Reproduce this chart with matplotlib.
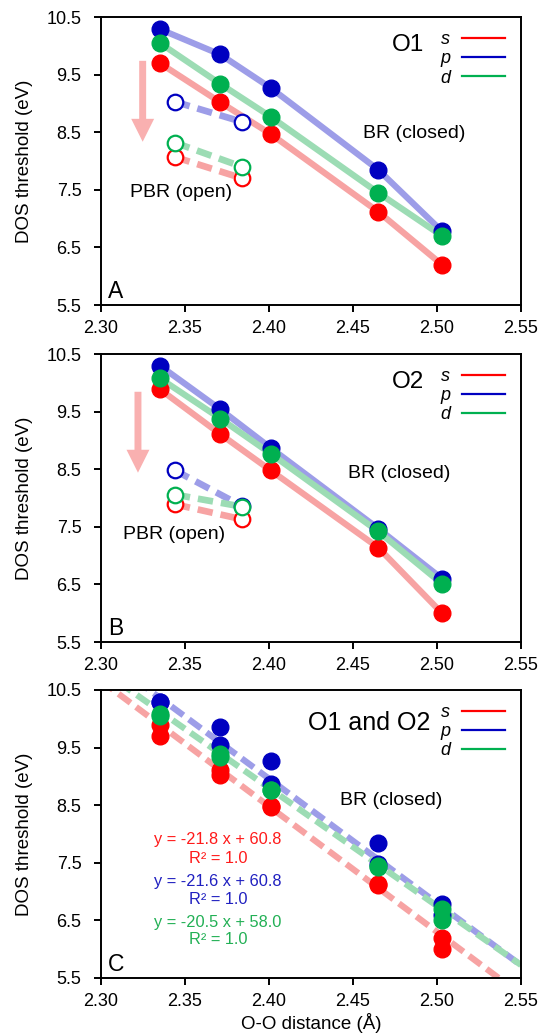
import matplotlib
matplotlib.use("Agg")
import matplotlib.pyplot as plt
import numpy as np
from matplotlib.lines import Line2D

plt.rcParams['font.family'] = ['Liberation Sans', 'DejaVu Sans']

# O-O distances (Å)
x_closed = [2.335, 2.371, 2.401, 2.465, 2.503]
x_open = [2.344, 2.384]

# O1 DOS thresholds (eV)
o1_s = [9.70, 9.02, 8.47, 7.12, 6.20]
o1_p = [10.29, 9.85, 9.27, 7.85, 6.78]
o1_d = [10.05, 9.34, 8.77, 7.45, 6.70]
o1_open_s = [8.07, 7.70]
o1_open_p = [9.03, 8.68]
o1_open_d = [8.32, 7.90]

# O2 DOS thresholds (eV)
o2_s = [9.89, 9.11, 8.48, 7.14, 6.00]
o2_p = [10.30, 9.54, 8.87, 7.47, 6.60]
o2_d = [10.08, 9.38, 8.77, 7.42, 6.51]
o2_open_s = [7.89, 7.63]
o2_open_p = [8.48, 7.86]
o2_open_d = [8.06, 7.85]

# linear fits for the closed (BR) structures
orbitals = ['s', 'p', 'd']
fit_slope = [-21.8, -21.6, -20.5]
fit_icept = [60.8, 60.8, 58.0]
fit_r2 = [1.0, 1.0, 1.0]

mark_col = {'s': '#ff0000', 'p': '#0000c0', 'd': '#00b050'}
line_col = {'s': '#f7a3a3', 'p': '#9d9de8', 'd': '#9cdcb4'}
text_col = {'s': '#ff1a1a', 'p': '#2020c0', 'd': '#22b055'}
arrow_col = '#f9b0b0'

xticks = [2.30, 2.35, 2.40, 2.45, 2.50, 2.55]
yticks = [5.5, 6.5, 7.5, 8.5, 9.5, 10.5]

fig = plt.figure(figsize=(5.39, 10.34), dpi=100)
L, W, H = 0.1874, 0.7792, 0.2785
axA = fig.add_axes([L, 0.7050, W, H])
axB = fig.add_axes([L, 0.3791, W, H])
axC = fig.add_axes([L, 0.0542, W, H])

MS = 12
FS = 13


def style(ax, letter):
    ax.set_xlim(2.30, 2.55)
    ax.set_ylim(5.5, 10.5)
    ax.set_xticks(xticks)
    ax.set_xticklabels([f"{t:.2f}" for t in xticks])
    ax.set_yticks(yticks)
    ax.set_yticklabels([f"{t:.1f}" for t in yticks])
    ax.tick_params(direction='out', length=5, width=1.4, labelsize=FS)
    ax.tick_params(axis='y', pad=9)
    ax.tick_params(axis='x', pad=6)
    for sp in ax.spines.values():
        sp.set_linewidth(1.4)
    ax.set_ylabel('DOS threshold (eV)', fontsize=13.5, labelpad=10)
    ax.text(2.304, 5.73, letter, fontsize=16.5, va='center', ha='left')


def legend(ax):
    handles = [Line2D([], [], color=mark_col[o], lw=1.6) for o in orbitals]
    ax.legend(handles, orbitals, loc='upper right', bbox_to_anchor=(0.962, 0.951),
              frameon=False, markerfirst=False, handlelength=2.38,
              handletextpad=0.66, labelspacing=0.12, borderpad=0, borderaxespad=0,
              prop={'style': 'italic', 'size': 13})


def panel(ax, s, p, d, os_, op, od, name, letter, br_xy, pbr_xy, arrow):
    series = {'s': (s, os_), 'p': (p, op), 'd': (d, od)}
    for o in orbitals:
        closed, opened = series[o]
        ax.plot(x_closed, closed, color=line_col[o], lw=4.5, solid_capstyle='butt', zorder=2)
        ax.plot(x_open, opened, color=line_col[o], lw=4.8, ls=(0, (2.3, 1.2)),
                dash_capstyle='butt', zorder=2)
    for o in orbitals:
        closed, opened = series[o]
        ax.plot(x_closed, closed, ls='none', marker='o', ms=MS, color=mark_col[o], zorder=3)
        ax.plot(x_open, opened, ls='none', marker='o', ms=MS - 0.8, mfc='white',
                mec=mark_col[o], mew=1.6, zorder=3)
    ax.annotate('', xy=(arrow[0], arrow[2]), xytext=(arrow[0], arrow[1]),
                arrowprops=dict(arrowstyle='simple,head_length=16.5,head_width=16.5,tail_width=5',
                                mutation_scale=1, color=arrow_col, lw=0,
                                shrinkA=0, shrinkB=0), zorder=1)
    ax.text(br_xy[0], br_xy[1], 'BR (closed)', fontsize=14, va='center', ha='left')
    ax.text(pbr_xy[0], pbr_xy[1], 'PBR (open)', fontsize=14, va='center', ha='left')
    ax.text(2.4923, 10.01, name, fontsize=17.5, va='center', ha='right')
    legend(ax)
    style(ax, letter)


panel(axA, o1_s, o1_p, o1_d, o1_open_s, o1_open_p, o1_open_d, 'O1', 'A',
      (2.456, 8.47), (2.317, 7.45), (2.3248, 9.74, 8.335))
panel(axB, o2_s, o2_p, o2_d, o2_open_s, o2_open_p, o2_open_d, 'O2', 'B',
      (2.447, 8.43), (2.313, 7.37), (2.322, 9.845, 8.44))

# combined closed-structure data with linear fits
comb = {'s': (o1_s, o2_s), 'p': (o1_p, o2_p), 'd': (o1_d, o2_d)}
xf = np.array([2.30, 2.55])
for o, m, b in zip(orbitals, fit_slope, fit_icept):
    axC.plot(xf, m * xf + b, color=line_col[o], lw=4.5, ls=(0, (2.4, 1.1)),
             dash_capstyle='butt', zorder=2)
for o in orbitals:
    for ys in comb[o]:
        axC.plot(x_closed, ys, ls='none', marker='o', ms=MS, color=mark_col[o], zorder=3)

eq_y = [(7.896, 7.58), (7.18, 6.87), (6.455, 6.16)]
for o, m, b, r2, (y1, y2) in zip(orbitals, fit_slope, fit_icept, fit_r2, eq_y):
    axC.text(2.3696, y1, f"y = {m:.1f} x + {b:.1f}", color=text_col[o], fontsize=11.8,
             ha='center', va='center')
    axC.text(2.3696, y2, f"R² = {r2:.1f}", color=text_col[o], fontsize=11.8,
             ha='center', va='center')
axC.text(2.442, 8.58, 'BR (closed)', fontsize=14, va='center', ha='left')
axC.text(2.496, 9.92, 'O1 and O2', fontsize=18, va='center', ha='right')
legend(axC)
style(axC, 'C')
axC.set_xlabel('O-O distance (Å)', fontsize=13.5, labelpad=2)

fig.savefig('out.png', dpi=100)
